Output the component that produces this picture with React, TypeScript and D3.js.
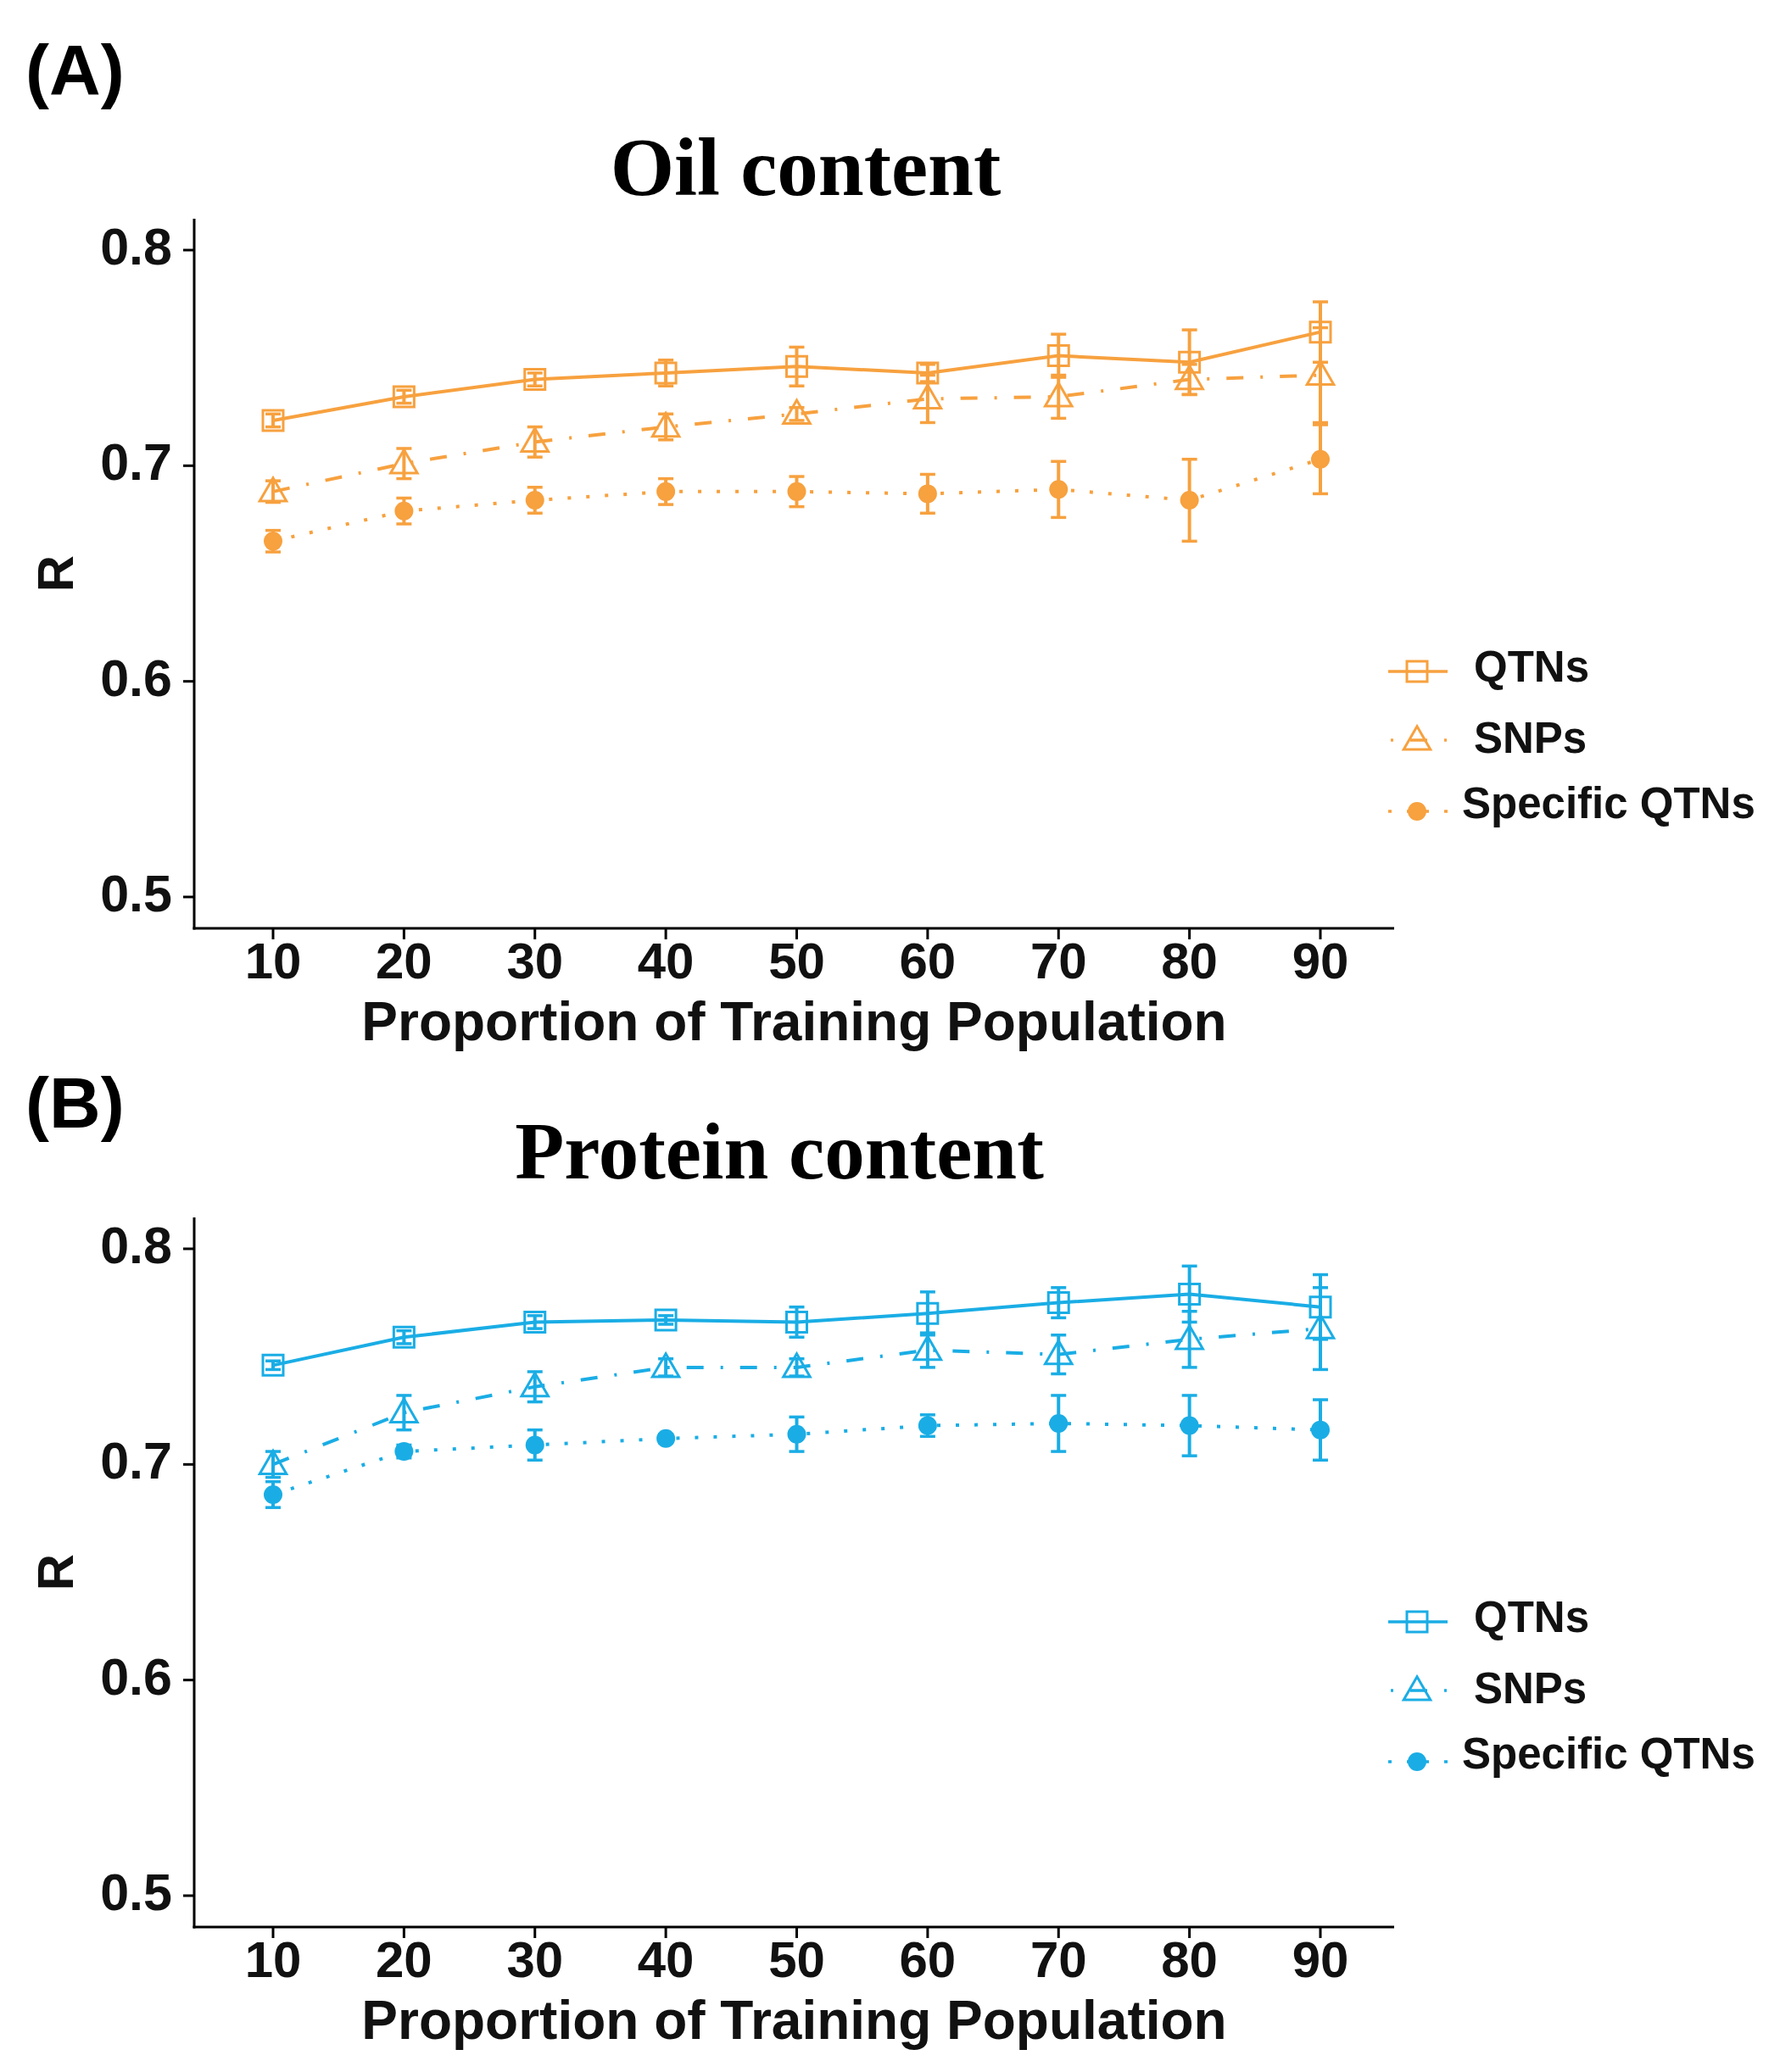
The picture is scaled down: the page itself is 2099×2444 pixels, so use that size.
import React from 'react';
import * as d3 from 'd3';

// ---------- data ----------
const proportions = [10, 20, 30, 40, 50, 60, 70, 80, 90];
const yTickValues = [0.5, 0.6, 0.7, 0.8];
const seriesNames = ['QTNs', 'SNPs', 'Specific QTNs'];
const panelLabels = ['(A)', '(B)'];
const panelTitles = ['Oil content', 'Protein content'];
const xAxisTitle = 'Proportion of Training Population';
const yAxisTitle = 'R';

const oilQTNs = [0.721, 0.732, 0.740, 0.743, 0.746, 0.743, 0.751, 0.748, 0.762];
const oilQTNsErr = [0.003, 0.003, 0.003, 0.006, 0.009, 0.004, 0.010, 0.015, 0.014];
const oilSNPs = [0.688, 0.701, 0.711, 0.718, 0.724, 0.731, 0.732, 0.740, 0.742];
const oilSNPsErr = [0.005, 0.007, 0.007, 0.006, 0.003, 0.011, 0.010, 0.007, 0.022];
const oilSpecific = [0.665, 0.679, 0.684, 0.688, 0.688, 0.687, 0.689, 0.684, 0.703];
const oilSpecificErr = [0.005, 0.006, 0.006, 0.006, 0.007, 0.009, 0.013, 0.019, 0.016];

const proQTNs = [0.746, 0.759, 0.766, 0.767, 0.766, 0.770, 0.775, 0.779, 0.773];
const proQTNsErr = [0.002, 0.003, 0.003, 0.002, 0.007, 0.010, 0.007, 0.013, 0.015];
const proSNPs = [0.700, 0.724, 0.736, 0.745, 0.745, 0.753, 0.751, 0.758, 0.763];
const proSNPsErr = [0.006, 0.008, 0.007, 0.004, 0.004, 0.008, 0.009, 0.013, 0.019];
const proSpecific = [0.686, 0.706, 0.709, 0.712, 0.714, 0.718, 0.719, 0.718, 0.716];
const proSpecificErr = [0.006, 0.003, 0.007, 0.002, 0.008, 0.005, 0.013, 0.014, 0.014];

const ORANGE = '#F7A13F';
const BLUE = '#1AADE5';

// ---------- layout ----------
const W = 2099;
const H = 2444;
const SANS = "'Liberation Sans', Arial, sans-serif";
const SERIF = "'Liberation Serif', 'Times New Roman', serif";
const dashes = ['none', '20 20 3 20', '4 18'];

type Series = { mean: number[]; err: number[] };

function Marker({ kind, x, y, color }: { kind: number; x: number; y: number; color: string }) {
  if (kind === 0) {
    const p = d3.symbol(d3.symbolSquare, 24 * 24)();
    return <path d={p as string} transform={`translate(${x},${y})`} fill="none" stroke={color} strokeWidth={3} />;
  }
  if (kind === 1) {
    const p = d3.symbol(d3.symbolTriangle, 430)();
    return <path d={p as string} transform={`translate(${x},${y + 2})`} fill="none" stroke={color} strokeWidth={3} />;
  }
  return <circle cx={x} cy={y} r={11} fill={color} />;
}

function Panel({ idx, dy, legendDy, titleX, titleY, titleSize, labelY, color, series }: {
  idx: number; dy: number; legendDy: number; titleX: number; titleY: number; titleSize: number;
  labelY: number; color: string; series: Series[];
}) {
  const x = d3.scaleLinear().domain([10, 90]).range([322, 1557]);
  const y = d3.scaleLinear().domain([0.5, 0.8]).range([1058 + dy, 295 + dy]);
  const axisLeft = 229;
  const axisRight = 1644;
  const axisTop = 258 + dy;
  const axisBottom = 1095 + dy;
  const line = d3.line<number>().x((_, i) => x(proportions[i])).y((v) => y(v));
  const legendRows = [792, 873, 957].map((v) => v + legendDy);
  const legendTextY = [804, 888, 965].map((v) => v + legendDy);
  const legendTextX = [1738, 1738, 1724];

  return (
    <g>
      <text x={30} y={labelY} fontFamily={SANS} fontWeight="bold" fontSize={84} fill="#000">{panelLabels[idx]}</text>
      <text x={titleX} y={titleY} textAnchor="middle" fontFamily={SERIF} fontWeight="bold" fontSize={titleSize} fill="#000">{panelTitles[idx]}</text>

      {/* axes */}
      <line x1={axisLeft} x2={axisLeft} y1={axisTop} y2={axisBottom + 1.5} stroke="#000" strokeWidth={3} />
      <line x1={axisLeft - 1.5} x2={axisRight} y1={axisBottom} y2={axisBottom} stroke="#000" strokeWidth={3} />
      {yTickValues.map((t) => (
        <g key={`y${t}`}>
          <line x1={axisLeft - 13} x2={axisLeft} y1={y(t)} y2={y(t)} stroke="#000" strokeWidth={3} />
          <text x={203} y={y(t) + 17} textAnchor="end" fontFamily={SANS} fontWeight="bold" fontSize={61} fill="#111">{t.toFixed(1)}</text>
        </g>
      ))}
      {proportions.map((t) => (
        <g key={`x${t}`}>
          <line x1={x(t)} x2={x(t)} y1={axisBottom} y2={axisBottom + 13} stroke="#000" strokeWidth={3} />
          <text x={x(t)} y={1154 + dy} textAnchor="middle" fontFamily={SANS} fontWeight="bold" fontSize={60} fill="#111">{t}</text>
        </g>
      ))}
      <text x={(axisLeft + axisRight) / 2} y={1227 + dy} textAnchor="middle" fontFamily={SANS} fontWeight="bold" fontSize={64} fill="#111">{xAxisTitle}</text>
      <text transform={`translate(86,${(axisTop + axisBottom) / 2}) rotate(-90)`} textAnchor="middle" fontFamily={SANS} fontWeight="bold" fontSize={60} fill="#111">{yAxisTitle}</text>

      {/* lines */}
      {series.map((s, k) => (
        <path key={`l${k}`} d={line(s.mean) as string} fill="none" stroke={color} strokeWidth={4} strokeDasharray={dashes[k]} />
      ))}
      {/* error bars */}
      {series.map((s, k) => (
        <g key={`e${k}`}>
          {s.mean.map((m, i) => {
            const cx = x(proportions[i]);
            const y1 = y(m + s.err[i]);
            const y2 = y(m - s.err[i]);
            return (
              <g key={i}>
                <line x1={cx} x2={cx} y1={y1} y2={y2} stroke={color} strokeWidth={4} />
                <line x1={cx - 9} x2={cx + 9} y1={y1} y2={y1} stroke={color} strokeWidth={3.5} />
                <line x1={cx - 9} x2={cx + 9} y1={y2} y2={y2} stroke={color} strokeWidth={3.5} />
              </g>
            );
          })}
        </g>
      ))}
      {/* points */}
      {series.map((s, k) => (
        <g key={`p${k}`}>
          {s.mean.map((m, i) => (
            <Marker key={i} kind={k} x={x(proportions[i])} y={y(m)} color={color} />
          ))}
        </g>
      ))}

      {/* legend */}
      {seriesNames.map((name, k) => (
        <g key={`lg${k}`}>
          <line x1={1637} x2={1707} y1={legendRows[k]} y2={legendRows[k]} stroke={color} strokeWidth={3.5}
            strokeDasharray={dashes[k]} strokeDashoffset={k === 1 ? 37 : 0} />
          <Marker kind={k} x={1671} y={legendRows[k]} color={color} />
          <text x={legendTextX[k]} y={legendTextY[k]} fontFamily={SANS} fontWeight="bold" fontSize={51} fill="#111">{name}</text>
        </g>
      ))}
    </g>
  );
}

export default function App() {
  const oil: Series[] = [
    { mean: oilQTNs, err: oilQTNsErr },
    { mean: oilSNPs, err: oilSNPsErr },
    { mean: oilSpecific, err: oilSpecificErr },
  ];
  const pro: Series[] = [
    { mean: proQTNs, err: proQTNsErr },
    { mean: proSNPs, err: proSNPsErr },
    { mean: proSpecific, err: proSpecificErr },
  ];
  return (
    <div style={{ position: 'absolute', left: 0, top: 0 }}>
      <svg width={W} height={H} viewBox={`0 0 ${W} ${H}`} style={{ display: 'block', background: '#fff' }}>
        <rect width={W} height={H} fill="#fff" />
        <Panel idx={0} dy={0} legendDy={0} titleX={950} titleY={230} titleSize={97} labelY={112} color={ORANGE} series={oil} />
        <Panel idx={1} dy={1178} legendDy={1121} titleX={919} titleY={1390} titleSize={95} labelY={1330} color={BLUE} series={pro} />
      </svg>
    </div>
  );
}
